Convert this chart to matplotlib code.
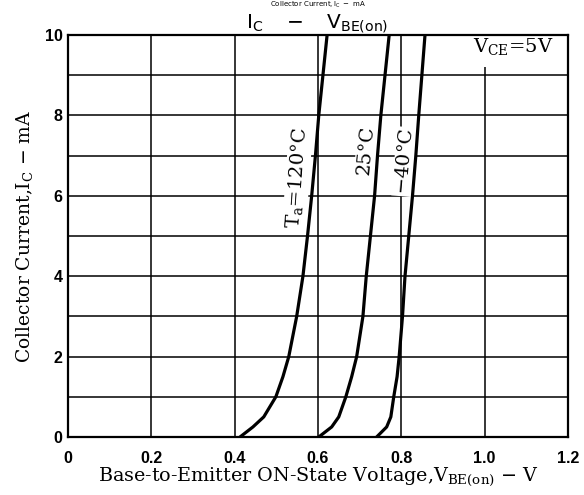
import matplotlib as mpl
import matplotlib.pyplot as plt

mpl.use("agg", force=True)

# collector current (mA), shared by all three curves
ic_ma = [0, 0.25, 0.5, 1, 1.5, 2, 3, 4, 5, 6, 7, 8, 10]

# V_BE(on) (V) at each current, one list per ambient temperature
vbe_120c = [0.413, 0.444, 0.470, 0.499, 0.516, 0.530, 0.549, 0.564, 0.575, 0.585, 0.594, 0.602, 0.622]
vbe_25c = [0.602, 0.633, 0.650, 0.667, 0.681, 0.693, 0.708, 0.716, 0.726, 0.736, 0.743, 0.751, 0.771]
vbe_m40c = [0.741, 0.765, 0.775, 0.782, 0.790, 0.795, 0.803, 0.809, 0.818, 0.827, 0.835, 0.842, 0.857]

x_ticks = [0, 0.2, 0.4, 0.6, 0.8, 1.0, 1.2]
x_tick_labels = ['0', '0.2', '0.4', '0.6', '0.8', '1.0', '1.2']
y_ticks = [0, 2, 4, 6, 8, 10]

serif = 'DejaVu Serif'
sans = 'Liberation Sans'

fig = plt.figure(figsize=(5.84, 4.95), dpi=100)
ax = fig.add_axes([0.1164, 0.1172, 0.856, 0.812])

for vbe in (vbe_120c, vbe_25c, vbe_m40c):
    ax.plot(vbe, ic_ma, color='black', lw=2.3, solid_capstyle='round', zorder=3)

ax.set_xlim(0, 1.2)
ax.set_ylim(0, 10)
ax.set_xticks(x_ticks)
ax.set_xticklabels(x_tick_labels)
ax.set_yticks(y_ticks)
ax.set_yticks([1, 3, 5, 7, 9], minor=True)
ax.grid(True, which='both', color='black', lw=1.1)
ax.tick_params(which='both', length=0)
ax.tick_params(axis='x', pad=10)
ax.tick_params(axis='y', pad=4)
for lbl in ax.get_xticklabels() + ax.get_yticklabels():
    lbl.set_fontfamily(sans)
    lbl.set_fontweight('bold')
    lbl.set_fontsize(11.5)
for sp in ax.spines.values():
    sp.set_linewidth(1.6)

ax.set_xlabel(r'Base-to-Emitter ON-State Voltage,V$_{\mathregular{BE(on)}}$ $-$ V',
              family=serif, fontsize=13.8, labelpad=0)
ax.set_ylabel(r'Collector Current,I$_{\mathregular{C}}$ $-$ mA',
              family=serif, fontsize=13.5, labelpad=6)

box = dict(facecolor='white', edgecolor='none', pad=1)
ax.text(0.551, 6.45, r'T$_{\mathregular{a}}$=120°C', family=serif, fontsize=14,
        rotation=86, ha='center', va='center', bbox=box, zorder=2)
ax.text(0.716, 7.15, '25°C', family=serif, fontsize=14,
        rotation=85, ha='center', va='center', bbox=box, zorder=2)
ax.text(0.808, 6.85, '$-$40°C', family=serif, fontsize=14,
        rotation=85, ha='center', va='center', bbox=box, zorder=2)
ax.text(1.166, 9.7, r'V$_{\mathregular{CE}}$=5V', family=serif, fontsize=14,
        ha='right', va='center', bbox=dict(facecolor='white', edgecolor='none', pad=7), zorder=2)

# chart title, with the line of the page above it
fig.text(0.543, 0.951, r'$\mathregular{I_C\ \ \ -\ \ \ V_{BE(on)}}$',
         family='DejaVu Sans', fontsize=14.5, ha='center', va='center')
fig.text(0.545, 0.9995, r'$\mathregular{Collector\ Current, I_C\ -\ mA}$',
         family='DejaVu Sans', fontsize=5, ha='center', va='top')

fig.savefig('out.png', dpi=100)
plt.close(fig)
